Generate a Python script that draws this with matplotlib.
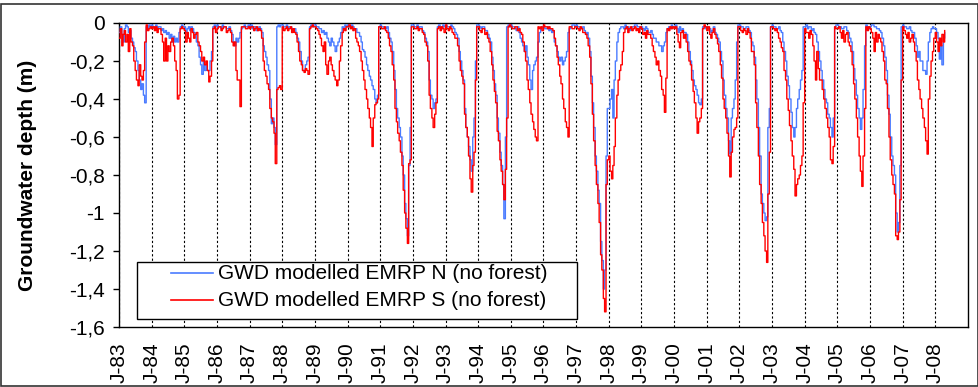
import matplotlib
matplotlib.use('Agg')
import matplotlib.pyplot as plt
import pandas as pd
from matplotlib.patches import Rectangle

plt.rcParams['font.family'] = ['Liberation Sans', 'DejaVu Sans']

# half-monthly groundwater depth (m), Jan 1983 - Apr 2008
gwd_n = [
    -0.05, -0.02, -0.06, -0.10, -0.03, -0.01, -0.02, -0.05, -0.04, -0.08, -0.10, -0.13, -0.15, -0.20, -0.25, -0.30, -0.35, -0.32, -0.38, -0.42, -0.02, -0.03, -0.01, -0.02,  # 1983
    -0.01, -0.02, -0.02, -0.01, -0.03, -0.02, -0.02, -0.04, -0.03, -0.05, -0.04, -0.06, -0.05, -0.08, -0.06, -0.10, -0.07, -0.10, -0.08, -0.10, -0.05, -0.02, -0.01, -0.02,  # 1984
    -0.02, -0.05, -0.03, -0.02, -0.04, -0.02, -0.03, -0.05, -0.06, -0.10, -0.12, -0.18, -0.22, -0.27, -0.20, -0.25, -0.22, -0.25, -0.25, -0.20, -0.15, -0.02, -0.01, -0.02,  # 1985
    -0.01, -0.02, -0.02, -0.03, -0.01, -0.02, -0.02, -0.03, -0.03, -0.02, -0.04, -0.06, -0.10, -0.12, -0.08, -0.10, -0.08, -0.05, -0.03, -0.02, -0.01, -0.02, -0.02, -0.01,  # 1986
    -0.02, -0.01, -0.03, -0.02, -0.02, -0.04, -0.03, -0.02, -0.03, -0.05, -0.12, -0.15, -0.18, -0.22, -0.25, -0.40, -0.53, -0.50, -0.55, -0.64, -0.02, -0.01, -0.02, -0.01,  # 1987
    -0.01, -0.02, -0.02, -0.01, -0.03, -0.02, -0.02, -0.03, -0.04, -0.03, -0.05, -0.08, -0.10, -0.15, -0.20, -0.25, -0.25, -0.22, -0.20, -0.18, -0.02, -0.01, -0.02, -0.01,  # 1988
    -0.01, -0.02, -0.02, -0.03, -0.03, -0.05, -0.04, -0.06, -0.05, -0.08, -0.10, -0.12, -0.08, -0.10, -0.12, -0.15, -0.12, -0.10, -0.08, -0.05, -0.02, -0.03, -0.01, -0.02,  # 1989
    -0.01, -0.02, -0.02, -0.01, -0.02, -0.03, -0.03, -0.05, -0.05, -0.07, -0.10, -0.14, -0.15, -0.18, -0.22, -0.25, -0.28, -0.30, -0.33, -0.35, -0.40, -0.42, -0.38, -0.02,  # 1990
    -0.01, -0.02, -0.02, -0.03, -0.03, -0.02, -0.05, -0.08, -0.10, -0.15, -0.25, -0.35, -0.45, -0.50, -0.55, -0.60, -0.70, -0.80, -0.95, -1.03, -1.12, -0.75, -0.55, -0.01,  # 1991
    -0.01, -0.02, -0.02, -0.01, -0.03, -0.02, -0.02, -0.04, -0.05, -0.08, -0.10, -0.15, -0.30, -0.38, -0.40, -0.45, -0.42, -0.40, -0.02, -0.01, -0.02, -0.03, -0.01, -0.02,  # 1992
    -0.01, -0.02, -0.02, -0.03, -0.01, -0.02, -0.03, -0.05, -0.06, -0.08, -0.15, -0.20, -0.25, -0.30, -0.45, -0.55, -0.60, -0.65, -0.72, -0.78, -0.60, -0.50, -0.20, -0.01,  # 1993
    -0.01, -0.02, -0.03, -0.02, -0.02, -0.04, -0.04, -0.06, -0.08, -0.10, -0.18, -0.25, -0.32, -0.38, -0.50, -0.58, -0.68, -0.75, -0.85, -1.03, -0.60, -0.02, -0.01, -0.02,  # 1994
    -0.01, -0.02, -0.02, -0.03, -0.04, -0.02, -0.05, -0.08, -0.10, -0.12, -0.15, -0.12, -0.18, -0.22, -0.30, -0.35, -0.25, -0.22, -0.20, -0.18, -0.10, -0.05, -0.03, -0.02,  # 1995
    -0.02, -0.03, -0.03, -0.02, -0.04, -0.03, -0.05, -0.04, -0.10, -0.12, -0.15, -0.18, -0.20, -0.18, -0.22, -0.20, -0.18, -0.15, -0.05, -0.03, -0.02, -0.01, -0.01, -0.02,  # 1996
    -0.01, -0.02, -0.02, -0.03, -0.03, -0.02, -0.04, -0.06, -0.05, -0.08, -0.15, -0.28, -0.42, -0.55, -0.70, -0.78, -0.88, -0.95, -1.15, -1.25, -1.40, -1.30, -0.70, -0.45,  # 1997
    -0.45, -0.40, -0.35, -0.50, -0.30, -0.20, -0.10, -0.05, -0.03, -0.02, -0.02, -0.03, -0.01, -0.03, -0.02, -0.04, -0.03, -0.02, -0.02, -0.01, -0.01, -0.02, -0.02, -0.03,  # 1998
    -0.02, -0.03, -0.04, -0.02, -0.03, -0.05, -0.05, -0.04, -0.06, -0.08, -0.08, -0.10, -0.10, -0.12, -0.12, -0.15, -0.12, -0.10, -0.05, -0.03, -0.02, -0.03, -0.01, -0.02,  # 1999
    -0.02, -0.01, -0.03, -0.05, -0.02, -0.04, -0.03, -0.05, -0.05, -0.06, -0.10, -0.15, -0.20, -0.25, -0.30, -0.33, -0.35, -0.38, -0.42, -0.43, -0.40, -0.02, -0.02, -0.03,  # 2000
    -0.02, -0.03, -0.03, -0.05, -0.04, -0.02, -0.05, -0.06, -0.08, -0.10, -0.15, -0.20, -0.30, -0.38, -0.45, -0.50, -0.62, -0.69, -0.50, -0.45, -0.40, -0.30, -0.10, -0.01,  # 2001
    -0.01, -0.02, -0.02, -0.03, -0.03, -0.02, -0.02, -0.04, -0.05, -0.10, -0.12, -0.18, -0.30, -0.40, -0.55, -0.70, -0.90, -0.95, -1.00, -1.04, -1.02, -0.55, -0.45, -0.02,  # 2002
    -0.01, -0.02, -0.02, -0.03, -0.03, -0.02, -0.04, -0.05, -0.10, -0.15, -0.20, -0.28, -0.33, -0.40, -0.47, -0.55, -0.60, -0.55, -0.45, -0.40, -0.35, -0.30, -0.25, -0.02,  # 2003
    -0.02, -0.01, -0.03, -0.02, -0.02, -0.04, -0.03, -0.05, -0.06, -0.10, -0.15, -0.20, -0.25, -0.30, -0.35, -0.40, -0.42, -0.48, -0.50, -0.55, -0.60, -0.50, -0.02, -0.01,  # 2004
    -0.01, -0.02, -0.02, -0.03, -0.03, -0.02, -0.02, -0.04, -0.05, -0.08, -0.10, -0.15, -0.24, -0.30, -0.38, -0.45, -0.50, -0.56, -0.50, -0.35, -0.12, -0.01, -0.02, -0.03,  # 2005
    -0.02, -0.01, -0.01, -0.02, -0.02, -0.03, -0.03, -0.04, -0.05, -0.08, -0.12, -0.18, -0.25, -0.38, -0.48, -0.60, -0.70, -0.75, -0.80, -1.00, -1.10, -1.05, -0.75, -0.02,  # 2006
    -0.01, -0.02, -0.02, -0.03, -0.03, -0.02, -0.04, -0.05, -0.05, -0.08, -0.12, -0.18, -0.15, -0.20, -0.20, -0.25, -0.25, -0.27, -0.20, -0.10, -0.05, -0.03, -0.02, -0.03,  # 2007
    -0.03, -0.05, -0.08, -0.19, -0.12, -0.22, -0.08, -0.05,  # 2008
]

gwd_s = [
    -0.08, -0.03, -0.12, -0.06, -0.04, -0.10, -0.06, -0.15, -0.03, -0.10, -0.12, -0.20, -0.25, -0.30, -0.33, -0.22, -0.28, -0.30, -0.25, -0.10, -0.01, -0.04, -0.03, -0.02,  # 1983
    -0.03, -0.02, -0.04, -0.02, -0.05, -0.03, -0.03, -0.06, -0.10, -0.20, -0.08, -0.20, -0.12, -0.15, -0.10, -0.08, -0.12, -0.20, -0.25, -0.40, -0.38, -0.03, -0.02, -0.03,  # 1984
    -0.04, -0.10, -0.05, -0.08, -0.10, -0.03, -0.05, -0.08, -0.06, -0.05, -0.10, -0.12, -0.15, -0.20, -0.18, -0.22, -0.20, -0.25, -0.31, -0.28, -0.20, -0.03, -0.02, -0.05,  # 1985
    -0.03, -0.02, -0.02, -0.04, -0.03, -0.02, -0.02, -0.05, -0.04, -0.03, -0.05, -0.10, -0.12, -0.10, -0.25, -0.30, -0.30, -0.44, -0.02, -0.02, -0.02, -0.03, -0.03, -0.02,  # 1986
    -0.03, -0.02, -0.02, -0.04, -0.03, -0.02, -0.04, -0.03, -0.04, -0.08, -0.20, -0.25, -0.28, -0.32, -0.35, -0.45, -0.50, -0.52, -0.58, -0.74, -0.35, -0.34, -0.33, -0.35,  # 1987
    -0.02, -0.04, -0.03, -0.02, -0.04, -0.03, -0.02, -0.05, -0.03, -0.05, -0.06, -0.10, -0.15, -0.20, -0.22, -0.25, -0.26, -0.24, -0.25, -0.27, -0.03, -0.02, -0.01, -0.02,  # 1988
    -0.02, -0.03, -0.04, -0.06, -0.08, -0.12, -0.15, -0.10, -0.22, -0.27, -0.20, -0.18, -0.22, -0.25, -0.28, -0.30, -0.33, -0.30, -0.20, -0.12, -0.05, -0.03, -0.04, -0.02,  # 1989
    -0.02, -0.01, -0.03, -0.02, -0.04, -0.03, -0.08, -0.10, -0.12, -0.15, -0.20, -0.25, -0.30, -0.35, -0.40, -0.45, -0.50, -0.55, -0.65, -0.50, -0.43, -0.42, -0.40, -0.02,  # 1990
    -0.02, -0.03, -0.03, -0.02, -0.04, -0.05, -0.08, -0.12, -0.15, -0.22, -0.30, -0.45, -0.52, -0.58, -0.62, -0.68, -0.75, -0.88, -1.00, -1.08, -1.16, -0.74, -0.72, -0.02,  # 1991
    -0.02, -0.03, -0.03, -0.02, -0.04, -0.03, -0.03, -0.05, -0.06, -0.10, -0.12, -0.20, -0.38, -0.45, -0.50, -0.55, -0.48, -0.42, -0.03, -0.02, -0.04, -0.02, -0.03, -0.05,  # 1992
    -0.01, -0.03, -0.04, -0.02, -0.03, -0.05, -0.06, -0.08, -0.08, -0.12, -0.20, -0.25, -0.28, -0.32, -0.48, -0.55, -0.60, -0.70, -0.82, -0.89, -0.75, -0.68, -0.30, -0.02,  # 1993
    -0.02, -0.04, -0.05, -0.03, -0.03, -0.06, -0.05, -0.08, -0.10, -0.15, -0.22, -0.30, -0.36, -0.42, -0.57, -0.62, -0.72, -0.78, -0.85, -0.93, -0.77, -0.50, -0.02, -0.01,  # 1994
    -0.02, -0.03, -0.03, -0.02, -0.02, -0.04, -0.03, -0.05, -0.06, -0.10, -0.15, -0.20, -0.30, -0.35, -0.42, -0.48, -0.52, -0.56, -0.60, -0.62, -0.02, -0.03, -0.02, -0.04,  # 1995
    -0.01, -0.02, -0.02, -0.03, -0.02, -0.03, -0.03, -0.04, -0.08, -0.12, -0.18, -0.22, -0.28, -0.32, -0.40, -0.45, -0.52, -0.55, -0.60, -0.02, -0.02, -0.03, -0.03, -0.02,  # 1996
    -0.02, -0.03, -0.04, -0.02, -0.03, -0.05, -0.05, -0.06, -0.08, -0.12, -0.18, -0.32, -0.48, -0.62, -0.75, -0.85, -0.95, -1.05, -1.22, -1.30, -1.45, -1.52, -0.85, -0.72,  # 1997
    -0.70, -0.78, -0.82, -0.75, -0.65, -0.50, -0.38, -0.30, -0.25, -0.22, -0.15, -0.05, -0.03, -0.02, -0.05, -0.03, -0.02, -0.04, -0.03, -0.02, -0.04, -0.03, -0.05, -0.02,  # 1998
    -0.03, -0.06, -0.05, -0.08, -0.04, -0.06, -0.06, -0.08, -0.12, -0.15, -0.18, -0.22, -0.20, -0.25, -0.28, -0.35, -0.38, -0.47, -0.29, -0.03, -0.04, -0.02, -0.03, -0.02,  # 1999
    -0.03, -0.02, -0.06, -0.10, -0.13, -0.05, -0.04, -0.08, -0.06, -0.10, -0.15, -0.20, -0.22, -0.30, -0.36, -0.42, -0.50, -0.58, -0.52, -0.50, -0.45, -0.03, -0.01, -0.02,  # 2000
    -0.04, -0.02, -0.06, -0.08, -0.05, -0.03, -0.06, -0.08, -0.11, -0.15, -0.22, -0.29, -0.40, -0.45, -0.50, -0.58, -0.70, -0.81, -0.68, -0.60, -0.56, -0.55, -0.50, -0.02,  # 2001
    -0.02, -0.04, -0.05, -0.03, -0.04, -0.06, -0.03, -0.05, -0.08, -0.15, -0.15, -0.22, -0.42, -0.55, -0.70, -0.85, -0.95, -1.05, -1.12, -1.20, -1.26, -0.90, -0.68, -0.02,  # 2002
    -0.02, -0.03, -0.04, -0.03, -0.05, -0.08, -0.10, -0.13, -0.15, -0.25, -0.30, -0.40, -0.46, -0.54, -0.62, -0.70, -0.77, -0.91, -0.85, -0.82, -0.80, -0.75, -0.70, -0.42,  # 2003
    -0.03, -0.05, -0.05, -0.08, -0.04, -0.06, -0.12, -0.20, -0.30, -0.15, -0.24, -0.30, -0.30, -0.35, -0.40, -0.45, -0.50, -0.55, -0.60, -0.72, -0.74, -0.65, -0.02, -0.03,  # 2004
    -0.03, -0.02, -0.05, -0.08, -0.04, -0.10, -0.06, -0.05, -0.10, -0.12, -0.15, -0.22, -0.32, -0.40, -0.50, -0.60, -0.70, -0.78, -0.86, -0.70, -0.45, -0.02, -0.04, -0.02,  # 2005
    -0.03, -0.05, -0.08, -0.15, -0.05, -0.10, -0.06, -0.08, -0.10, -0.15, -0.20, -0.30, -0.32, -0.45, -0.60, -0.72, -0.80, -0.85, -0.90, -1.12, -1.14, -1.10, -0.93, -0.30,  # 2006
    -0.02, -0.04, -0.06, -0.08, -0.05, -0.10, -0.08, -0.06, -0.10, -0.15, -0.20, -0.30, -0.35, -0.40, -0.45, -0.50, -0.55, -0.62, -0.69, -0.40, -0.28, -0.20, -0.15, -0.08,  # 2007
    -0.05, -0.10, -0.15, -0.08, -0.12, -0.06, -0.10, -0.04,  # 2008
]

assert len(gwd_n) == 608 and len(gwd_s) == 608, (len(gwd_n), len(gwd_s))

label_n = 'GWD modelled EMRP N (no forest)'
label_s = 'GWD modelled EMRP S (no forest)'
tick_years = list(range(1983, 2009))
y_ticks = [0, -0.2, -0.4, -0.6, -0.8, -1.0, -1.2, -1.4, -1.6]

col_n = '#4a7bff'
col_s = '#ff0000'

dates_n = pd.date_range('1983-01-01', periods=len(gwd_n), freq='SMS')
dates_s = pd.date_range('1983-01-01', periods=len(gwd_s), freq='SMS')

fig = plt.figure(figsize=(9.79, 3.87), dpi=100)
ax = fig.add_axes([119 / 979, 60 / 387, 849 / 979, 304 / 387])

ax.plot(dates_n, gwd_n, color=col_n, lw=1.0, drawstyle='steps-post', zorder=3)
ax.plot(dates_s, gwd_s, color=col_s, lw=1.0, drawstyle='steps-post', zorder=4)

ax.set_xlim(pd.Timestamp('1983-01-01'), pd.Timestamp('2009-01-01'))
ax.set_ylim(-1.6, 0)

ax.set_xticks([pd.Timestamp(f'{y}-01-01') for y in tick_years])
ax.set_xticklabels([f'J-{y % 100:02d}' for y in tick_years], rotation=90, fontsize=15)
ax.set_yticks(y_ticks)
ax.set_yticklabels([f'{v:g}'.replace('.', ',') if v != 0 else '0' for v in y_ticks], fontsize=15)
ax.tick_params(axis='y', direction='out', length=4, width=1, pad=6)
ax.tick_params(axis='x', direction='out', length=0, pad=11)

ax.grid(axis='x', color='black', linestyle=(0, (2, 2)), lw=0.8)
ax.set_axisbelow(True)
for sp in ax.spines.values():
    sp.set_linewidth(1)
    sp.set_color('black')

ax.set_ylabel('Groundwater depth (m)', fontsize=15, fontweight='bold')
ax.yaxis.set_label_coords(-0.097, 0.5)

# legend box drawn by hand to get the wide padding of the original
ax.add_patch(Rectangle((0.0212, 0.0263), 0.5183, 0.1875, transform=ax.transAxes,
                       facecolor='white', edgecolor='black', lw=1, zorder=6))
ax.plot([0.0613, 0.1107], [0.1776, 0.1776], transform=ax.transAxes, color=col_n, lw=1.2, zorder=7)
ax.plot([0.0613, 0.1107], [0.0888, 0.0888], transform=ax.transAxes, color=col_s, lw=1.2, zorder=7)
ax.text(0.1166, 0.1776, label_n, transform=ax.transAxes, fontsize=15, va='center', zorder=7)
ax.text(0.1166, 0.0888, label_s, transform=ax.transAxes, fontsize=15, va='center', zorder=7)

# outer frame round the whole picture
fig.add_artist(Rectangle((1 / 979, 1 / 387), 977 / 979, 382 / 387, transform=fig.transFigure,
                         fill=False, edgecolor='#333333', lw=1.2))

fig.savefig('out.png', dpi=100)
